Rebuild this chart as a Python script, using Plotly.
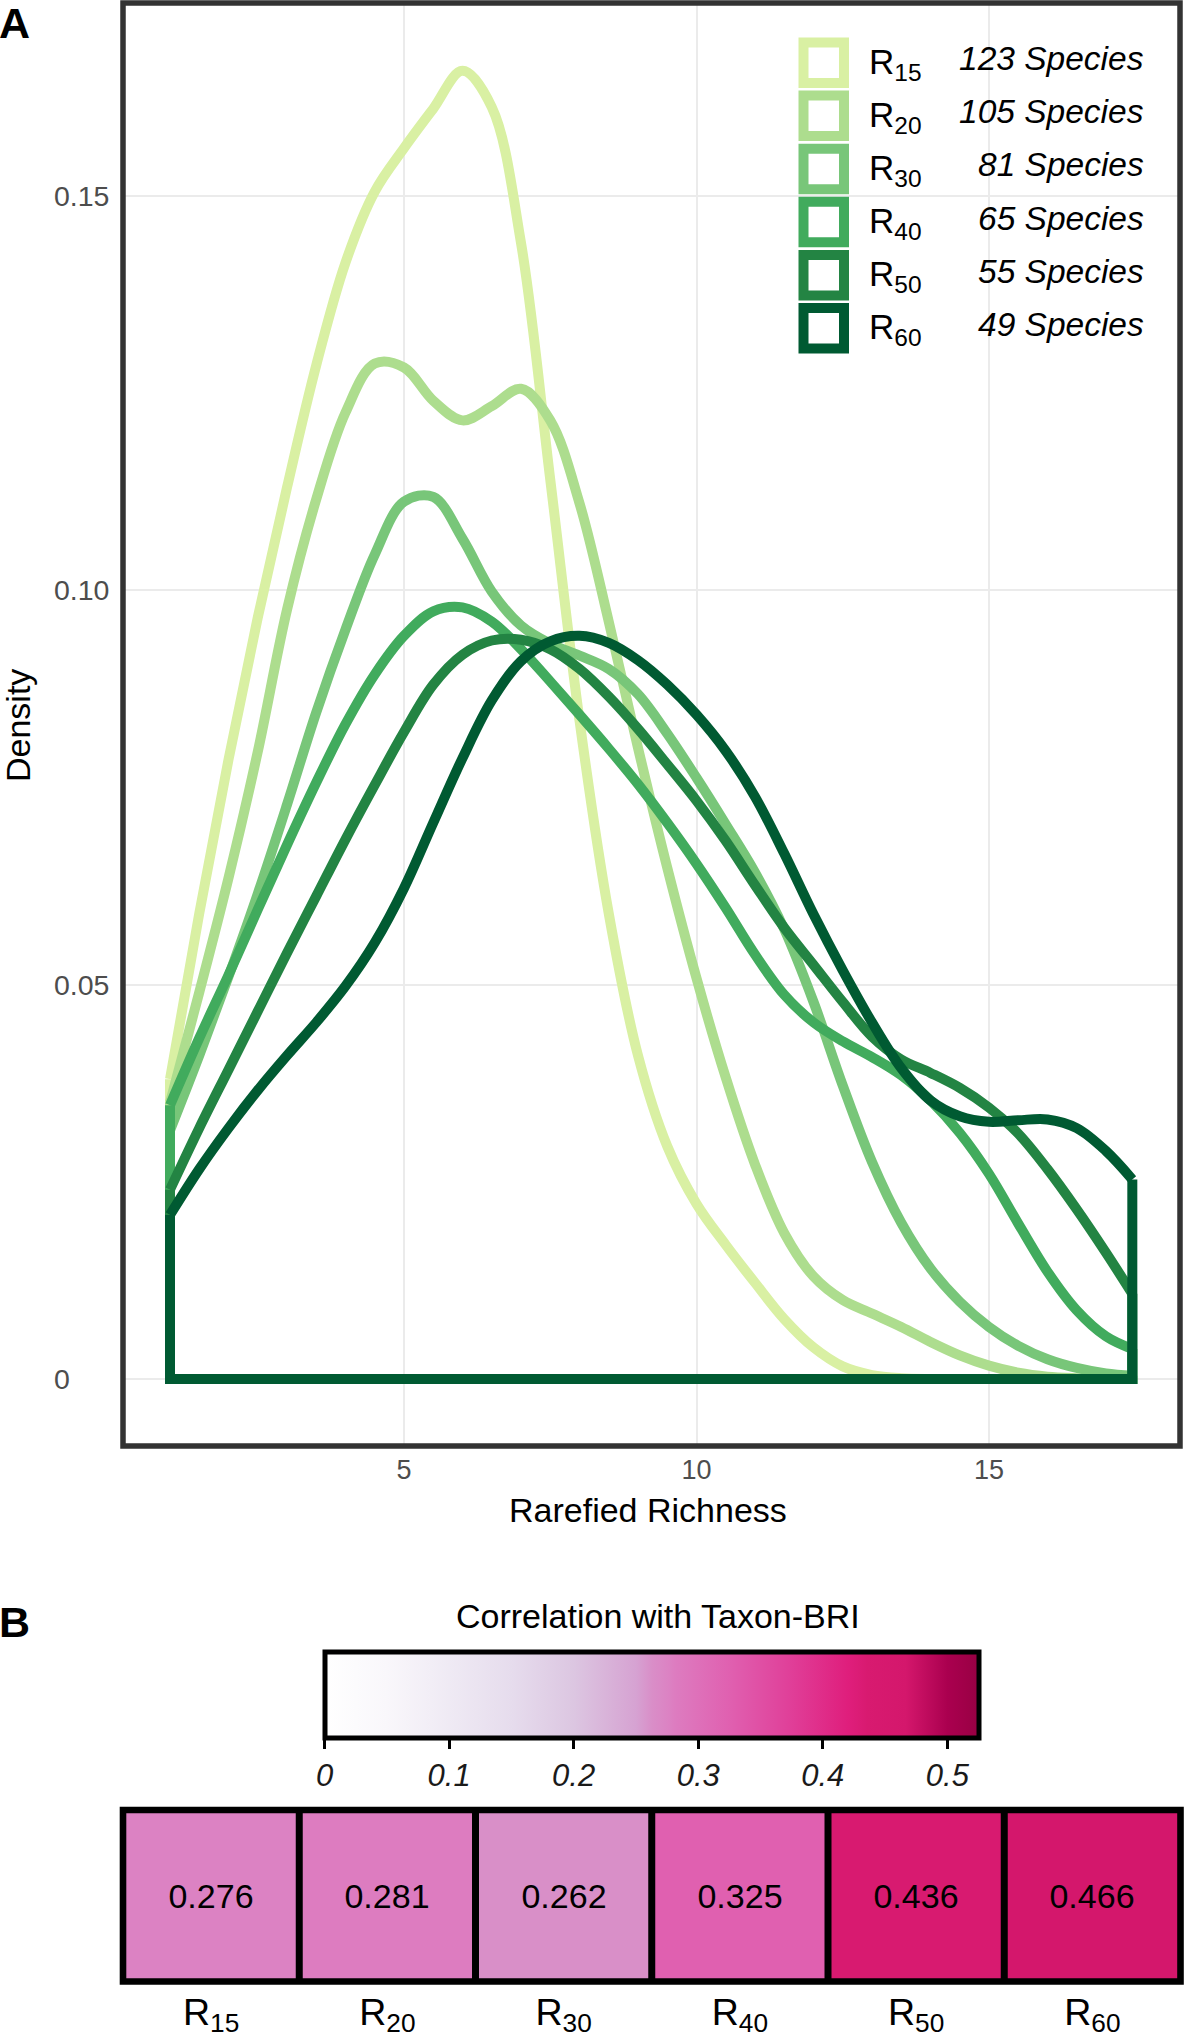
import plotly.graph_objects as go

# ---------------- data ----------------
series_names = ["R15", "R20", "R30", "R40", "R50", "R60"]
series_labels = ["R<sub>15</sub>", "R<sub>20</sub>", "R<sub>30</sub>",
                 "R<sub>40</sub>", "R<sub>50</sub>", "R<sub>60</sub>"]
species_counts = [123, 105, 81, 65, 55, 49]
series_colors = ["#d9f0a3", "#addd8e", "#78c679", "#41ab5d", "#238443", "#005a32"]

x_grid = [1, 1.5, 2, 2.5, 3, 3.5, 4, 4.5, 5, 5.5, 6, 6.5, 7, 7.5, 8, 8.5, 9, 9.5,
          10, 10.5, 11, 11.5, 12, 12.5, 13, 13.5, 14, 14.5, 15, 15.5, 16, 16.5, 17, 17.45]

dens_r15 = [0.0380, 0.0590, 0.0785, 0.0965, 0.1130, 0.1285, 0.1415, 0.1505, 0.1560, 0.1610,
            0.1658, 0.1612, 0.1440, 0.1140, 0.0835, 0.0590, 0.0410, 0.0295, 0.0222, 0.0170,
            0.0122, 0.0076, 0.0040, 0.0016, 0.0005, 0.0001, 0.0, 0.0, 0.0, 0.0, 0.0, 0.0, 0.0, 0.0]
dens_r20 = [0.0350, 0.0490, 0.0635, 0.0795, 0.0975, 0.1115, 0.1225, 0.1287, 0.1282, 0.1240,
            0.1215, 0.1233, 0.1255, 0.1215, 0.1110, 0.0960, 0.0800, 0.0648, 0.0508, 0.0382,
            0.0272, 0.0185, 0.0130, 0.0100, 0.0083, 0.0066, 0.0047, 0.0030, 0.0017, 0.0008,
            0.0003, 0.0001, 0.0, 0.0]
dens_r30 = [0.0315, 0.0410, 0.0510, 0.0615, 0.0728, 0.0845, 0.0950, 0.1045, 0.1112, 0.1118,
            0.1065, 0.0998, 0.0955, 0.0932, 0.0917, 0.0900, 0.0868, 0.0818, 0.0762, 0.0703,
            0.0642, 0.0570, 0.0478, 0.0372, 0.0275, 0.0198, 0.0140, 0.0098, 0.0066, 0.0042,
            0.0025, 0.0014, 0.0007, 0.0004]
dens_r40 = [0.0347, 0.0432, 0.0512, 0.0595, 0.0677, 0.0756, 0.0830, 0.0893, 0.0942, 0.0973,
            0.0978, 0.0960, 0.0925, 0.0884, 0.0842, 0.0799, 0.0754, 0.0705, 0.0653, 0.0597,
            0.0538, 0.0487, 0.0452, 0.0428, 0.0408, 0.0385, 0.0353, 0.0312, 0.0260, 0.0197,
            0.0136, 0.0087, 0.0054, 0.0038]
dens_r50 = [0.0240, 0.0318, 0.0392, 0.0466, 0.0540, 0.0612, 0.0684, 0.0753, 0.0820, 0.0880,
            0.0918, 0.0936, 0.0937, 0.0925, 0.0900, 0.0865, 0.0824, 0.0779, 0.0733, 0.0682,
            0.0626, 0.0572, 0.0525, 0.0478, 0.0434, 0.0405, 0.0388, 0.0369, 0.0344, 0.0311,
            0.0266, 0.0215, 0.0160, 0.0108]
dens_r60 = [0.0208, 0.0266, 0.0318, 0.0366, 0.0410, 0.0452, 0.0498, 0.0553, 0.0622, 0.0705,
            0.0787, 0.0860, 0.0910, 0.0935, 0.0942, 0.0933, 0.0911, 0.0880, 0.0842, 0.0796,
            0.0738, 0.0666, 0.0589, 0.0518, 0.0452, 0.0394, 0.0353, 0.0333, 0.0326, 0.0328,
            0.0329, 0.0318, 0.0289, 0.0253]
densities = [dens_r15, dens_r20, dens_r30, dens_r40, dens_r50, dens_r60]

x_ticks = [5, 10, 15]
y_ticks = [0, 0.05, 0.10, 0.15]
y_tick_text = ["0", "0.05", "0.10", "0.15"]

correlations = [0.276, 0.281, 0.262, 0.325, 0.436, 0.466]
cbar_ticks = [0, 0.1, 0.2, 0.3, 0.4, 0.5]
cbar_tick_text = ["0", "0.1", "0.2", "0.3", "0.4", "0.5"]
cbar_max = 0.525

# ---------------- geometry helpers ----------------
W, H = 1184, 2039
FONT = "Liberation Sans, Arial, sans-serif"


def px(p):
    return p / W


def py(p):
    return 1 - p / H


fig = go.Figure()

# ---------------- panel A: density outlines ----------------
for name, dens, col in zip(series_names, densities, series_colors):
    fig.add_trace(go.Scatter(
        x=x_grid, y=dens, mode="lines", name=name,
        line=dict(color=col, width=10, shape="spline", smoothing=1.0),
        xaxis="x", yaxis="y", hoverinfo="skip"))
    # closing outline of the density polygon (right edge, baseline, left edge)
    fig.add_trace(go.Scatter(
        x=[x_grid[-1], x_grid[-1], x_grid[0], x_grid[0]],
        y=[dens[-1], 0, 0, dens[0]], mode="lines", name=name + " outline",
        line=dict(color=col, width=10), xaxis="x", yaxis="y", hoverinfo="skip"))

# ---------------- panel B: heatmap ----------------
purd_scale = [
    [0.000, "#ffffff"], [0.095, "#f9f7fb"], [0.190, "#efeaf4"], [0.286, "#e6dced"],
    [0.381, "#dcc6e1"], [0.476, "#d6a2d2"], [0.500, "#d98ec8"], [0.526, "#dc82c3"],
    [0.535, "#dd7cc0"], [0.619, "#e060b0"], [0.714, "#e03e98"], [0.800, "#df1e7c"],
    [0.830, "#d81a70"], [0.888, "#d4176c"], [0.952, "#aa004f"], [1.000, "#980043"]]

fig.add_trace(go.Heatmap(
    z=[correlations], x=list(range(len(correlations))), y=[0],
    zmin=0, zmax=cbar_max, colorscale=purd_scale,
    texttemplate="%{z:.3f}", textfont=dict(size=34, color="black", family=FONT),
    xaxis="x2", yaxis="y2", hoverinfo="skip",
    colorbar=dict(
        orientation="h", x=px(651.5), xanchor="center", y=py(1651.5), yanchor="top",
        len=654 / W, lenmode="fraction", thickness=86, thicknessmode="pixels",
        outlinewidth=5, outlinecolor="black", xpad=0, ypad=0,
        tickmode="array", tickvals=cbar_ticks, ticktext=cbar_tick_text,
        ticks="outside", ticklen=9, tickwidth=3, tickcolor="black",
        tickfont=dict(size=31, style="italic", color="#1a1a1a", family=FONT),
        title=dict(text="")),
))

shapes = []
annotations = []

# panel A border
shapes.append(dict(type="rect", xref="x domain", yref="y domain", x0=0, x1=1, y0=0, y1=1,
                   line=dict(color="#333333", width=5.5), layer="above"))
# panel B borders and separators
shapes.append(dict(type="rect", xref="x2 domain", yref="y2 domain", x0=0, x1=1, y0=0, y1=1,
                   line=dict(color="black", width=6.6), layer="above"))
for k in range(len(correlations) - 1):
    shapes.append(dict(type="line", xref="x2", yref="y2 domain", x0=k + 0.5, x1=k + 0.5,
                       y0=0, y1=1, line=dict(color="black", width=7), layer="above"))

# legend (panel A)
row0, row_step, box_h = 37.5, 53.1, 50.5
for i, (lab, cnt, col) in enumerate(zip(series_labels, species_counts, series_colors)):
    top = row0 + i * row_step
    shapes.append(dict(type="rect", xref="paper", yref="paper",
                       x0=px(803.5), x1=px(844), y0=py(top + 5), y1=py(top + box_h - 5),
                       line=dict(color=col, width=10), fillcolor="white", layer="above"))
    cy = top + box_h / 2
    annotations.append(dict(text=lab, xref="paper", yref="paper", x=px(867), y=py(cy + 1),
                            xanchor="left", yanchor="middle", showarrow=False,
                            font=dict(size=35, color="black", family=FONT)))
    annotations.append(dict(text=f"{cnt} Species", xref="paper", yref="paper",
                            x=px(1146), y=py(cy - 4), xanchor="right", yanchor="middle",
                            showarrow=False,
                            font=dict(size=33.5, color="black", family=FONT, style="italic")))

# y tick labels (left aligned, as in the reference)
for v, t in zip(y_ticks, y_tick_text):
    annotations.append(dict(text=t, xref="paper", yref="y", x=px(52), y=v,
                            xanchor="left", yanchor="middle", showarrow=False,
                            font=dict(size=28.5, color="#4d4d4d", family=FONT)))

# titles and panel tags
annotations += [
    dict(text="<b>A</b>", xref="paper", yref="paper", x=px(-3), y=py(23), xanchor="left",
         yanchor="middle", showarrow=False, font=dict(size=43, color="black", family=FONT)),
    dict(text="<b>B</b>", xref="paper", yref="paper", x=px(-3), y=py(1622), xanchor="left",
         yanchor="middle", showarrow=False, font=dict(size=43, color="black", family=FONT)),
    dict(text="Density", xref="paper", yref="paper", x=px(18), y=py(726), textangle=-90,
         xanchor="center", yanchor="middle", showarrow=False,
         font=dict(size=34, color="black", family=FONT)),
    dict(text="Rarefied Richness", xref="paper", yref="paper", x=px(648), y=py(1510),
         xanchor="center", yanchor="middle", showarrow=False,
         font=dict(size=34, color="black", family=FONT)),
    dict(text="Correlation with Taxon-BRI", xref="paper", yref="paper", x=px(658),
         y=py(1616), xanchor="center", yanchor="middle", showarrow=False,
         font=dict(size=34, color="black", family=FONT)),
]

fig.update_layout(
    width=W, height=H, margin=dict(l=0, r=0, t=0, b=0, autoexpand=False),
    paper_bgcolor="white", plot_bgcolor="white", showlegend=False,
    font=dict(family=FONT),
    xaxis=dict(domain=[px(123), px(1180)], range=[0.1966, 18.265], anchor="y",
               automargin=False,
               tickmode="array", tickvals=x_ticks, ticktext=[str(t) for t in x_ticks],
               showgrid=True, gridcolor="#ebebeb", gridwidth=2, zeroline=False,
               ticks="outside", ticklen=0, tickcolor="rgba(0,0,0,0)",
               tickfont=dict(size=27, color="#4d4d4d", family=FONT), showline=False),
    yaxis=dict(domain=[py(1446), py(3)], range=[-0.00849, 0.1744], anchor="x",
               automargin=False,
               tickmode="array", tickvals=y_ticks, showticklabels=False,
               showgrid=True, gridcolor="#ebebeb", gridwidth=2, zeroline=False,
               showline=False),
    xaxis2=dict(domain=[px(123), px(1180.5)], range=[-0.5, len(correlations) - 0.5],
                anchor="y2", automargin=False,
                tickmode="array", tickvals=list(range(len(correlations))),
                ticktext=series_labels, showgrid=False, zeroline=False,
                ticks="outside", ticklen=0, tickcolor="rgba(0,0,0,0)",
                ticklabelstandoff=-3,
                tickfont=dict(size=37.5, color="black", family=FONT)),
    yaxis2=dict(domain=[py(1981.5), py(1810)], range=[-0.5, 0.5], anchor="x2",
                automargin=False, visible=False),
    shapes=shapes, annotations=annotations,
)

# remove the browser's default 8px body margin so the figure sits at the page origin
fig.write_html("out.html", config={"displayModeBar": False},
               post_script="document.body.style.margin='0px';")
